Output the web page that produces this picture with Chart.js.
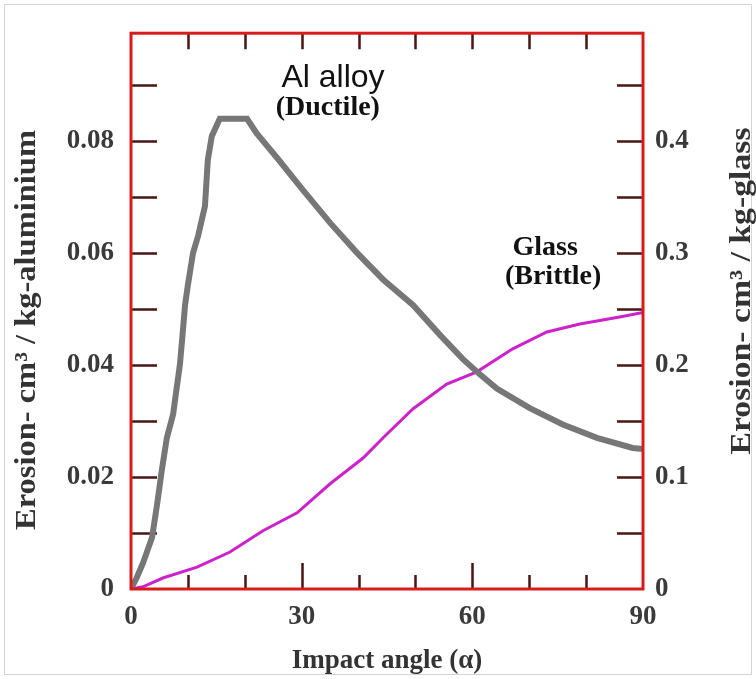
<!DOCTYPE html>
<html>
<head>
<meta charset="utf-8">
<script src="https://cdn.jsdelivr.net/npm/chart.js"></script>
<style>
  html, body { margin: 0; padding: 0; background: #fff; }
  #wrap { width: 756px; height: 679px; }
</style>
</head>
<body>
<div id="wrap"><canvas id="erosionChart" width="756" height="679"></canvas></div>
<script>
// Al alloy (ductile) - left axis
var alAngles  = [0, 1, 2.1, 3.7, 4.6, 5.4, 6.3, 7.4, 8.6, 9.0, 9.5, 10.0, 10.9, 11.8, 13.0, 13.5, 14.2, 15.6, 20.4, 22.1, 25.7, 30.2, 35.0, 39.7, 44.3, 49.6, 54.3, 58.3, 60.8, 64.3, 70.1, 75.9, 81.9, 88.2, 90];
var alErosion = [0, 0.002, 0.0046, 0.0092, 0.0152, 0.0211, 0.027, 0.0312, 0.0401, 0.0447, 0.0507, 0.0543, 0.060, 0.0631, 0.0684, 0.0766, 0.0809, 0.0840, 0.0840, 0.0814, 0.077, 0.0713, 0.0654, 0.0601, 0.0553, 0.0507, 0.0454, 0.0411, 0.0388, 0.0358, 0.0323, 0.0294, 0.027, 0.0252, 0.025];

// Glass (brittle) - right axis
var glassAngles  = [0, 2.1, 5.6, 11.6, 17.4, 23.2, 29.2, 35.0, 40.8, 44.5, 49.6, 55.5, 60.8, 67.1, 73.1, 78.9, 85.9, 90];
var glassErosion = [0, 0.002, 0.0098, 0.0195, 0.033, 0.052, 0.068, 0.094, 0.117, 0.136, 0.161, 0.183, 0.194, 0.2145, 0.2296, 0.2367, 0.243, 0.247];

var xTicks = [0, 30, 60, 90];
var xMinorTicks = [10, 20, 40, 50, 70, 80];
var leftTicks = [0, 0.02, 0.04, 0.06, 0.08];
var leftMinorTicks = [0.01, 0.03, 0.05, 0.07, 0.09];
var rightTicks = [0, 0.1, 0.2, 0.3, 0.4];

var serif = '"Liberation Serif", "Times New Roman", serif';

function toPoints(xs, ys) {
  return xs.map(function (x, i) { return { x: x, y: ys[i] }; });
}

// inward tick marks + red frame
var framePlugin = {
  id: 'frame',
  beforeDatasetsDraw: function (chart) {
    var c = chart.ctx, a = chart.chartArea;
    var sx = chart.scales.x, sl = chart.scales.yL;
    c.save();
    c.strokeStyle = '#4a1515';
    c.lineWidth = 2.5;
    c.beginPath();
    xTicks.concat(xMinorTicks).forEach(function (v) {
      var px = Math.round(sx.getPixelForValue(v)) + 0.5;
      var len = xTicks.indexOf(v) >= 0 ? 26 : 14;
      if (v > 0 && v < 90) {
        c.moveTo(px, a.bottom); c.lineTo(px, a.bottom - len);
        c.moveTo(px, a.top); c.lineTo(px, a.top + 16);
      }
    });
    leftTicks.concat(leftMinorTicks).forEach(function (v) {
      if (v <= 0) return;
      var py = Math.round(sl.getPixelForValue(v)) + 0.5;
      c.moveTo(a.left, py); c.lineTo(a.left + 26, py);
      c.moveTo(a.right, py); c.lineTo(a.right - 26, py);
    });
    c.stroke();
    c.restore();
  },
  afterDraw: function (chart) {
    var c = chart.ctx, a = chart.chartArea;
    var sx = chart.scales.x, sl = chart.scales.yL;
    c.save();
    c.strokeStyle = '#d81c1c';
    c.lineWidth = 3;
    c.strokeRect(a.left, a.top, a.right - a.left, a.bottom - a.top);
    // thin outer border of the picture
    c.strokeStyle = '#d4d4d4';
    c.lineWidth = 1;
    c.strokeRect(4.5, 4.5, chart.width - 9, chart.height - 9);

    // curve labels
    c.fillStyle = '#111';
    c.textAlign = 'center';
    c.textBaseline = 'alphabetic';
    c.font = '32px "Liberation Sans", Arial, sans-serif';
    c.fillText('Al alloy', sx.getPixelForValue(35.5), sl.getPixelForValue(0.0897));
    c.font = 'bold 28px ' + serif;
    c.fillText('(Ductile)', sx.getPixelForValue(34.6), sl.getPixelForValue(0.0846));
    c.fillText('Glass', sx.getPixelForValue(72.8), sl.getPixelForValue(0.0596));
    c.fillText('(Brittle)', sx.getPixelForValue(74.2), sl.getPixelForValue(0.0544));

    // rotated axis titles
    function vtitle(text, cx, cy, len) {
      c.save();
      c.font = 'bold 30px ' + serif;
      c.fillStyle = '#333';
      c.textAlign = 'center';
      c.textBaseline = 'middle';
      var w = c.measureText(text).width;
      c.translate(cx, cy);
      c.rotate(-Math.PI / 2);
      c.scale(len / w, 1);
      c.fillText(text, 0, 0);
      c.restore();
    }
    vtitle('Erosion- cm\u00b3 / kg-aluminium', 27, 330, 400);
    vtitle('Erosion- cm\u00b3 / kg-glass', 742, 291, 327);
    c.restore();
  }
};

var ctx = document.getElementById('erosionChart').getContext('2d');
var chart = new Chart(ctx, {
  type: 'line',
  data: {
    datasets: [{
      label: 'Al alloy',
      data: toPoints(alAngles, alErosion),
      yAxisID: 'yL',
      borderColor: '#777777',
      borderWidth: 6,
      pointRadius: 0,
      tension: 0
    }, {
      label: 'Glass',
      data: toPoints(glassAngles, glassErosion),
      yAxisID: 'yR',
      borderColor: '#cc22cc',
      borderWidth: 3,
      pointRadius: 0,
      tension: 0
    }, {
      label: 'Glass dots',
      data: toPoints(glassAngles, glassErosion),
      yAxisID: 'yR',
      borderColor: '#5a1050',
      borderWidth: 1.3,
      borderDash: [2, 3],
      pointRadius: 0,
      tension: 0
    }]
  },
  options: {
    responsive: false,
    devicePixelRatio: 1,
    animation: false,
    layout: { padding: { top: 29, left: 0, right: 0, bottom: 0 } },
    plugins: { legend: { display: false }, tooltip: { enabled: false } },
    scales: {
      x: {
        type: 'linear',
        position: 'bottom',
        min: 0,
        max: 90,
        grid: { display: false, drawTicks: false },
        border: { display: false },
        afterBuildTicks: function (s) { s.ticks = xTicks.map(function (v) { return { value: v }; }); },
        afterFit: function (s) { s.height = 90; },
        ticks: { color: '#3a3a3a', padding: 12, maxRotation: 0, font: { family: serif, size: 27, weight: 'bold' } },
        title: {
          display: true,
          text: 'Impact angle (\u03b1)',
          color: '#333',
          padding: { top: 0, bottom: 2 },
          font: { family: serif, size: 27, weight: 'bold' }
        }
      },
      yL: {
        type: 'linear',
        position: 'left',
        min: 0,
        max: 0.09929,
        grid: { display: false, drawTicks: false },
        border: { display: false },
        afterBuildTicks: function (s) { s.ticks = leftTicks.map(function (v) { return { value: v }; }); },
        afterFit: function (s) { s.width = 131; },
        ticks: {
          color: '#3a3a3a',
          padding: 17,
          font: { family: serif, size: 27, weight: 'bold' },
          callback: function (v) { return v === 0 ? '0' : v.toFixed(2); }
        }
      },
      yR: {
        type: 'linear',
        position: 'right',
        min: 0,
        max: 0.49645,
        grid: { display: false, drawTicks: false },
        border: { display: false },
        afterBuildTicks: function (s) { s.ticks = rightTicks.map(function (v) { return { value: v }; }); },
        afterFit: function (s) { s.width = 113; },
        ticks: {
          color: '#3a3a3a',
          padding: 12,
          font: { family: serif, size: 27, weight: 'bold' },
          callback: function (v) { return v === 0 ? '0' : v.toFixed(1); }
        }
      }
    }
  },
  plugins: [framePlugin]
});
</script>
</body>
</html>
